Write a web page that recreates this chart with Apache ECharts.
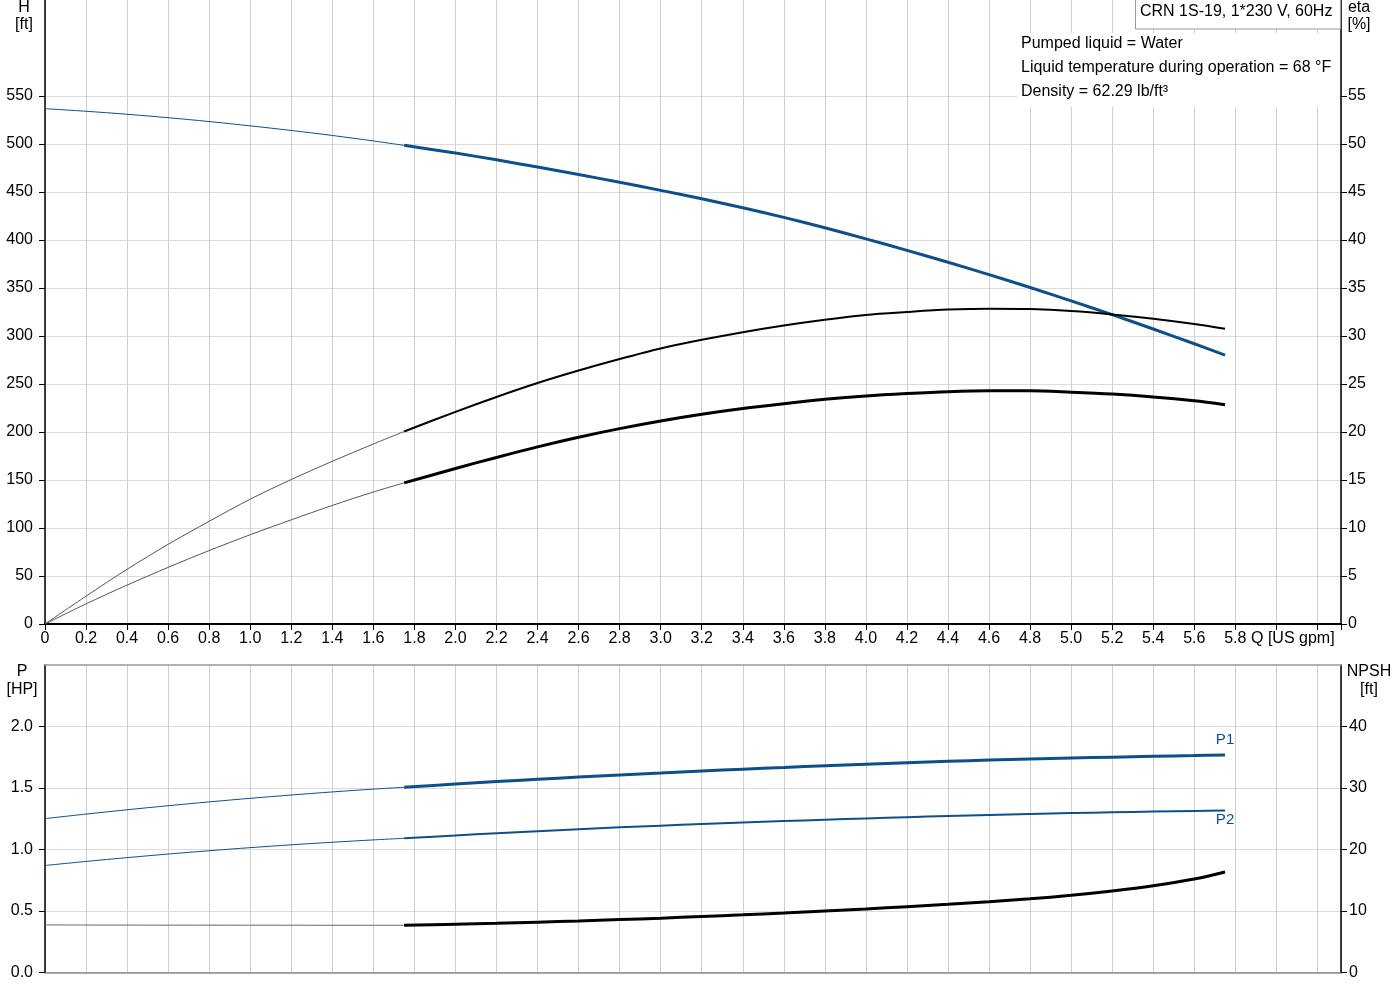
<!DOCTYPE html>
<html>
<head>
<meta charset="utf-8">
<script src="https://cdn.jsdelivr.net/npm/echarts@6/dist/echarts.min.js"></script>
<style>
html,body{margin:0;padding:0;background:#fff;}
#chart{width:1400px;height:1000px;}
</style>
</head>
<body>
<div id="chart"></div>
<script>
// ---- data ----
const Q_THIN  = [0, 0.2, 0.4, 0.6, 0.8, 1.0, 1.2, 1.4, 1.6, 1.75];
const Q_THICK = [1.75, 2.0, 2.2, 2.4, 2.6, 2.8, 3.0, 3.2, 3.4, 3.6, 3.8, 4.0, 4.2, 4.4, 4.6, 4.8, 5.0, 5.2, 5.4, 5.6, 5.75];

const H_THIN  = [536.8, 534.1, 531.0, 527.4, 523.4, 518.9, 514.1, 508.9, 503.2, 498.6];
const H_THICK = [498.6, 490.6, 483.5, 476.0, 468.2, 460.1, 451.7, 442.9, 433.6, 423.6, 412.8, 401.2, 389.2, 376.8, 363.9, 350.5, 336.6, 322.2, 307.3, 291.9, 280.0];

const ETA_HYD_THIN  = [0, 2.9, 5.7, 8.3, 10.7, 13.0, 15.05, 16.95, 18.75, 20.05];
const ETA_HYD_THICK = [20.05, 22.1, 23.65, 25.1, 26.4, 27.6, 28.7, 29.6, 30.4, 31.1, 31.7, 32.2, 32.5, 32.75, 32.85, 32.8, 32.6, 32.25, 31.8, 31.25, 30.75];

const ETA_TOT_THIN  = [0, 2.1, 4.05, 5.9, 7.65, 9.3, 10.85, 12.35, 13.75, 14.7];
const ETA_TOT_THICK = [14.7, 16.2, 17.35, 18.45, 19.45, 20.35, 21.15, 21.85, 22.45, 22.95, 23.4, 23.75, 24.0, 24.2, 24.3, 24.3, 24.15, 23.95, 23.65, 23.25, 22.85];

const P1_THIN  = [1.251, 1.288, 1.323, 1.356, 1.387, 1.416, 1.443, 1.468, 1.491, 1.506];
const P1_THICK = [1.506, 1.532, 1.552, 1.571, 1.589, 1.606, 1.622, 1.638, 1.653, 1.667, 1.681, 1.694, 1.706, 1.717, 1.727, 1.736, 1.744, 1.751, 1.758, 1.764, 1.769];

const P2_THIN  = [0.870, 0.903, 0.934, 0.963, 0.990, 1.015, 1.038, 1.059, 1.078, 1.091];
const P2_THICK = [1.091, 1.114, 1.132, 1.149, 1.165, 1.180, 1.194, 1.207, 1.219, 1.231, 1.242, 1.253, 1.263, 1.272, 1.281, 1.289, 1.296, 1.302, 1.308, 1.313, 1.317];

const NPSH_THIN  = [7.73, 7.72, 7.71, 7.70, 7.70, 7.69, 7.69, 7.68, 7.68, 7.68];
const NPSH_THICK = [7.68, 7.85, 8.0, 8.18, 8.38, 8.6, 8.84, 9.1, 9.38, 9.68, 10.0, 10.34, 10.7, 11.08, 11.5, 11.98, 12.55, 13.25, 14.1, 15.2, 16.35];

// tick labels
const Q_TICKS    = [0, 0.2, 0.4, 0.6, 0.8, 1.0, 1.2, 1.4, 1.6, 1.8, 2.0, 2.2, 2.4, 2.6, 2.8, 3.0, 3.2, 3.4, 3.6, 3.8, 4.0, 4.2, 4.4, 4.6, 4.8, 5.0, 5.2, 5.4, 5.6, 5.8];
const H_TICKS    = [0, 50, 100, 150, 200, 250, 300, 350, 400, 450, 500, 550];
const ETA_TICKS  = [0, 5, 10, 15, 20, 25, 30, 35, 40, 45, 50, 55];
const P_TICKS    = [0, 0.5, 1.0, 1.5, 2.0];
const NPSH_TICKS = [0, 10, 20, 30, 40];

// texts
const INFO_TITLE = 'CRN 1S-19, 1*230 V, 60Hz';
const INFO_LINES = ['Pumped liquid = Water', 'Liquid temperature during operation = 68 °F', 'Density = 62.29 lb/ft³'];

// ---- chart ----
const FONT = '"Liberation Sans", Arial, sans-serif';
const BLUE = '#0d4f8b';
const QMAX = 6.315;

function pairs(xs, ys) { return xs.map((x, i) => [x, ys[i]]); }

const chart = echarts.init(document.getElementById('chart'), null, {renderer: 'canvas'});

const lbl = {color: '#000', fontSize: 16, fontFamily: FONT};

function yAxisDef(grid, pos, max, interval, ticks, fmt, margin, split) {
  return {
    type: 'value', gridIndex: grid, position: pos, min: 0, max: max, interval: interval,
    axisLine: {show: true, onZero: false, lineStyle: {color: '#000', width: 1.5}},
    axisTick: {show: true, length: 6, lineStyle: {color: '#000'}, customValues: ticks},
    axisLabel: Object.assign({margin: margin, customValues: ticks, formatter: fmt}, lbl),
    splitLine: {show: split, lineStyle: {color: '#dcdcdc', width: 1}}
  };
}

function line(name, xs, ys, xi, yi, color, width, extra) {
  return Object.assign({
    name: name, type: 'line', xAxisIndex: xi, yAxisIndex: yi,
    data: pairs(xs, ys), showSymbol: false, symbol: 'none', smooth: 0.3,
    lineStyle: {color: color, width: width}, itemStyle: {color: color},
    silent: true, z: 3
  }, extra || {});
}

function endMark(text, xs, ys, pos, dist) {
  const n = xs.length - 1;
  return {
    symbol: 'circle', symbolSize: 1, silent: true,
    itemStyle: {color: 'rgba(0,0,0,0)'},
    data: [{coord: [xs[n], ys[n]], label: {show: true, position: pos, distance: dist, formatter: text,
      color: BLUE, fontSize: 15, fontFamily: FONT}}]
  };
}

const option = {
  animation: false,
  backgroundColor: '#fff',
  textStyle: {fontFamily: FONT},
  grid: [
    {left: 45, right: 59, top: 0, height: 624},
    {left: 45, right: 59, top: 665, height: 307.5}
  ],
  xAxis: [
    {
      type: 'value', gridIndex: 0, min: 0, max: QMAX, interval: 0.2,
      axisLine: {show: true, onZero: false, lineStyle: {color: '#000', width: 2}},
      axisTick: {show: true, length: 6, lineStyle: {color: '#000'}},
      axisLabel: Object.assign({margin: 7, customValues: Q_TICKS,
        formatter: v => (v === 0 ? '0' : v.toFixed(1))}, lbl),
      splitLine: {show: true, lineStyle: {color: '#cfcfcf', width: 1}}
    },
    {
      type: 'value', gridIndex: 1, min: 0, max: QMAX, interval: 0.2, position: 'bottom',
      axisLine: {show: true, onZero: false, lineStyle: {color: '#888', width: 1.5}},
      axisTick: {show: false}, axisLabel: {show: false},
      splitLine: {show: true, lineStyle: {color: '#cfcfcf', width: 1}}
    },
    {
      type: 'value', gridIndex: 1, min: 0, max: QMAX, interval: 0.2, position: 'top',
      axisLine: {show: true, onZero: false, lineStyle: {color: '#999', width: 1.5}},
      axisTick: {show: false}, axisLabel: {show: false}, splitLine: {show: false}
    }
  ],
  yAxis: [
    yAxisDef(0, 'left', 650, 50, H_TICKS, v => String(v), 12, true),
    yAxisDef(0, 'right', 65, 5, ETA_TICKS, v => String(v), 7, false),
    yAxisDef(1, 'left', 2.5, 0.5, P_TICKS, v => v.toFixed(1), 12, true),
    yAxisDef(1, 'right', 50, 10, NPSH_TICKS, v => String(v), 8, false)
  ],
  series: [
    line('H thin', Q_THIN, H_THIN, 0, 0, BLUE, 1),
    line('H', Q_THICK, H_THICK, 0, 0, BLUE, 3),
    line('eta thin', Q_THIN, ETA_HYD_THIN, 0, 1, '#555', 1),
    line('eta', Q_THICK, ETA_HYD_THICK, 0, 1, '#000', 2),
    line('eta tot thin', Q_THIN, ETA_TOT_THIN, 0, 1, '#555', 1),
    line('eta tot', Q_THICK, ETA_TOT_THICK, 0, 1, '#000', 3),
    line('P1 thin', Q_THIN, P1_THIN, 1, 2, BLUE, 1),
    line('P1', Q_THICK, P1_THICK, 1, 2, BLUE, 3, {markPoint: endMark('P1', Q_THICK, P1_THICK, 'top', 7)}),
    line('P2 thin', Q_THIN, P2_THIN, 1, 2, BLUE, 1),
    line('P2', Q_THICK, P2_THICK, 1, 2, BLUE, 2, {markPoint: endMark('P2', Q_THICK, P2_THICK, 'bottom', 1)}),
    line('NPSH thin', Q_THIN, NPSH_THIN, 1, 3, '#666', 1),
    line('NPSH', Q_THICK, NPSH_THICK, 1, 3, '#000', 3)
  ],
  graphic: [
    {type: 'text', z: 100, style: {text: 'H', x: 24, y: 8, align: 'center', verticalAlign: 'middle', fontSize: 16, fontFamily: FONT, fill: '#000'}},
    {type: 'text', z: 100, style: {text: '[ft]', x: 24, y: 25, align: 'center', verticalAlign: 'middle', fontSize: 16, fontFamily: FONT, fill: '#000'}},
    {type: 'text', z: 100, style: {text: 'eta', x: 1359, y: 8, align: 'center', verticalAlign: 'middle', fontSize: 16, fontFamily: FONT, fill: '#000'}},
    {type: 'text', z: 100, style: {text: '[%]', x: 1359, y: 25, align: 'center', verticalAlign: 'middle', fontSize: 16, fontFamily: FONT, fill: '#000'}},
    {type: 'text', z: 100, style: {text: 'P', x: 22, y: 672, align: 'center', verticalAlign: 'middle', fontSize: 16, fontFamily: FONT, fill: '#000'}},
    {type: 'text', z: 100, style: {text: '[HP]', x: 22, y: 690, align: 'center', verticalAlign: 'middle', fontSize: 16, fontFamily: FONT, fill: '#000'}},
    {type: 'text', z: 100, style: {text: 'NPSH', x: 1369, y: 672, align: 'center', verticalAlign: 'middle', fontSize: 16, fontFamily: FONT, fill: '#000'}},
    {type: 'text', z: 100, style: {text: '[ft]', x: 1369, y: 690, align: 'center', verticalAlign: 'middle', fontSize: 16, fontFamily: FONT, fill: '#000'}},
    {type: 'text', z: 100, style: {text: 'Q [US gpm]', x: 1251, y: 639, align: 'left', verticalAlign: 'middle', fontSize: 16, fontFamily: FONT, fill: '#000'}},
    {type: 'rect', z: 100, shape: {x: 1135.5, y: -1, width: 205, height: 30}, style: {fill: '#fff', stroke: '#999', lineWidth: 1}},
    {type: 'text', z: 101, style: {text: INFO_TITLE, x: 1140, y: 12, align: 'left', verticalAlign: 'middle', fontSize: 16, fontFamily: FONT, fill: '#000'}},
    {type: 'rect', z: 100, shape: {x: 1017, y: 33, width: 322, height: 74}, style: {fill: '#fff'}},
    {type: 'text', z: 101, style: {text: INFO_LINES[0], x: 1021, y: 44, align: 'left', verticalAlign: 'middle', fontSize: 16, fontFamily: FONT, fill: '#000'}},
    {type: 'text', z: 101, style: {text: INFO_LINES[1], x: 1021, y: 68, align: 'left', verticalAlign: 'middle', fontSize: 16, fontFamily: FONT, fill: '#000'}},
    {type: 'text', z: 101, style: {text: INFO_LINES[2], x: 1021, y: 92, align: 'left', verticalAlign: 'middle', fontSize: 16, fontFamily: FONT, fill: '#000'}}
  ]
};

chart.setOption(option);
</script>
</body>
</html>
